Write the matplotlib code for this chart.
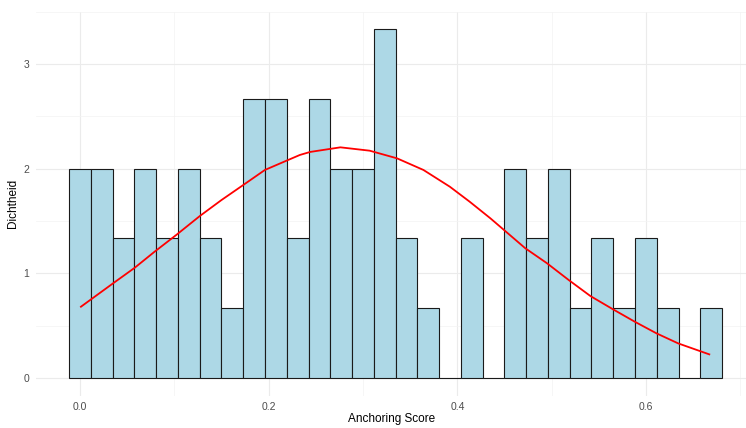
import numpy as np
import matplotlib
matplotlib.use("Agg")
import matplotlib.pyplot as plt

# histogram: counts per bin (30 bins, n = 65)
counts = [3, 3, 2, 3, 2, 3, 2, 1, 4, 4, 2, 4, 3, 3, 5, 2, 1, 0, 2, 0, 3, 2, 3, 1, 2, 1, 2, 1, 0, 1]
bin_left = -0.01154
bin_width = 0.02307

# normal density curve
curve_x = [0.001, 0.035, 0.058, 0.079, 0.102, 0.127, 0.150, 0.173, 0.196, 0.219, 0.233, 0.244,
           0.276, 0.307, 0.336, 0.364, 0.392, 0.413, 0.435, 0.472, 0.495, 0.518, 0.541, 0.565,
           0.588, 0.611, 0.634, 0.667]
curve_y = [0.681, 0.904, 1.053, 1.206, 1.366, 1.547, 1.700, 1.843, 1.987, 2.076, 2.130, 2.159,
           2.203, 2.171, 2.098, 1.987, 1.827, 1.684, 1.525, 1.239, 1.096, 0.936, 0.783, 0.656,
           0.538, 0.427, 0.331, 0.226]

x_ticks = [0.0, 0.2, 0.4, 0.6]
x_labels = ["0.0", "0.2", "0.4", "0.6"]
y_ticks = [0, 1, 2, 3]

plt.rcParams["font.family"] = ["Liberation Sans", "DejaVu Sans"]

n = sum(counts)
density = [c / (n * bin_width) for c in counts]
lefts = [bin_left + i * bin_width for i in range(len(counts))]

fig = plt.figure(figsize=(7.46, 4.28), dpi=100)
W, H = 746, 428
ax = fig.add_axes([36.4 / W, 1 - 395.5 / H, (746 - 36.4) / W, (395.5 - 11.5) / H])

ax.set_xlim(-0.0462, 0.7059)
ax.set_ylim(-0.1667, 3.5)

# grid like theme_minimal
ax.set_xticks(x_ticks)
ax.set_xticklabels(x_labels)
ax.set_yticks(y_ticks)
ax.set_xticks([0.1, 0.3, 0.5, 0.7], minor=True)
ax.set_yticks([0.5, 1.5, 2.5, 3.5], minor=True)
ax.grid(which="major", color="#EBEBEB", linewidth=0.8)
ax.grid(which="minor", color="#F3F3F3", linewidth=0.5)
ax.set_axisbelow(True)
for s in ax.spines.values():
    s.set_visible(False)
ax.tick_params(which="both", length=0)
ax.tick_params(axis="x", labelsize=7.5, labelcolor="#4D4D4D", pad=4.5)
ax.tick_params(axis="y", labelsize=7.5, labelcolor="#4D4D4D", pad=5)

ax.bar(lefts, density, width=bin_width, align="edge", color="#ADD8E6",
       edgecolor="#1A1A1A", linewidth=0.8, zorder=2)
ax.plot(curve_x, curve_y, color="red", linewidth=1.3, zorder=3)

ax.set_xlabel("Anchoring Score", fontsize=8.5, labelpad=1)
ax.set_ylabel("Dichtheid", fontsize=8.5, labelpad=3)

fig.savefig("out.png", dpi=100)
